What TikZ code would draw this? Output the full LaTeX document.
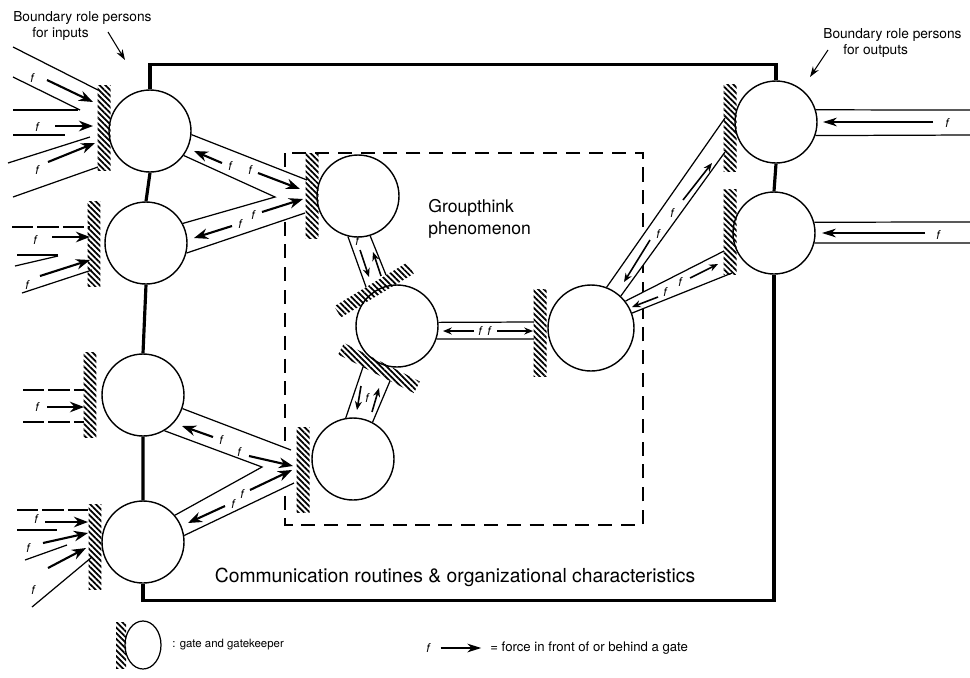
\documentclass[tikz,border=0pt]{standalone}
\usepackage{fontspec}
\setmainfont{TeX Gyre Heros}
\usetikzlibrary{arrows.meta,patterns.meta,shapes.geometric,calc}

\begin{document}
\begin{tikzpicture}[x=0.02cm,y=-0.02cm,
  gate/.style={circle,draw,line width=0.8pt,minimum size=1.64cm,inner sep=0pt},
  hatch/.style={rectangle,inner sep=0pt,minimum width=0.26cm,minimum height=1.7cm,
    pattern={Lines[angle=-45,distance=2.3pt,line width=1pt]}},
  wall/.style={line width=0.7pt},
  brk/.style={dash pattern=on 12pt off 2.5pt},
  boxline/.style={line width=1.8pt},
  force/.style={-{Stealth[length=8pt,width=6pt]},line width=1.2pt},
  smallforce/.style={-{Stealth[length=5pt,width=4pt]},line width=0.9pt},
  thinforce/.style={-{Stealth[length=8pt,width=5pt]},line width=0.6pt},
  lbl/.style={font=\fontsize{7}{8}\selectfont\itshape,inner sep=0pt}]
\useasboundingbox (0,0) rectangle (970,677);

% Groupthink area
\draw[line width=0.8pt,dash pattern=on 8pt off 5pt] (285,153) rectangle (643,525);

% Gate positions (y runs downwards, so polar angles are mirrored)
\coordinate (c1) at (150,131);
\coordinate (c2) at (146,243);
\coordinate (c3) at (143,395);
\coordinate (c4) at (143,542);
\coordinate (c5) at (591,328);

% Channels blank out the dashes
\fill[white] ($(c1)+(5:41)$) -- (307,180) -- (305,213) -- ($(c2)+(14:41)$) -- ($(c2)+(-28:41)$) -- (275,197) -- ($(c1)+(36:41)$) -- cycle;
\fill[white] ($(c3)+(19:41)$) -- (291,450) -- (294,483) -- ($(c4)+(-9:41)$) -- ($(c4)+(-40:41)$) -- (262,467) -- ($(c3)+(59:41)$) -- cycle;
\fill[white] ($(c5)+(-69:43)$) -- (725,118) -- (725,152) -- ($(c5)+(-47:43)$) -- cycle;
\fill[white] ($(c5)+(-38:43)$) -- (724,251) -- (732,273) -- ($(c5)+(-20:43)$) -- cycle;

% Gates left to right
\node[gate] (in1) at (c1) {};
\node[gate] (in2) at (c2) {};
\node[gate] (in3) at (c3) {};
\node[gate] (in4) at (c4) {};
\node[gate] (gt1) at (358,196) {};
\node[gate] (gt2) at (397,326) {};
\node[gate] (gt3) at (353,459) {};
\node[gate,minimum size=1.72cm] (gt4) at (c5) {};
\node[gate] (out1) at (776,122) {};
\node[gate] (out2) at (774,233) {};

% Gatekeepers
\node[hatch] (bin1) at (104,128) {};
\node[hatch] (bin2) at (94,244) {};
\node[hatch] (bin3) at (90,395) {};
\node[hatch] (bin4) at (95,547) {};
\node[hatch] (bgt1) at (312,196) {};
\node[hatch,rotate=-59] (bgt2a) at (374,290) {};
\node[hatch,rotate=63] (bgt2b) at (379,368) {};
\node[hatch] (bgt3) at (303,470) {};
\node[hatch,minimum height=1.74cm] (bgt4) at (540,333) {};
\node[hatch,minimum height=1.76cm] (bout1) at (730,128) {};
\node[hatch] (bout2) at (730,232) {};

% Organisation boundary
\draw[boxline] (in1.north) -- ++(0,-25) -| (out1.north);
\draw[boxline] (in1.south) -- (in2.north) (in2.south) -- (in3.north) (in3.south) -- (in4.north);
\draw[boxline] (in4.south) -- ++(0,17) -| (out2.south);
\draw[boxline] (out1.south) -- (out2.north);

% Inputs of first gate
\draw[wall] (13,47) -- (98,90);
\draw[wall] (13,77) -- (80,110);
\draw[wall] (13,110) -- (78,110);
\draw[wall] (13,135) -- (65,135);
\draw[wall] (8,163) -- (90,137);
\draw[wall] (13,197) -- (98,167);
\draw[force] (47,80) -- (93,102);
\draw[force] (55,126) -- (93,126);
\draw[force] (48,162) -- (95,143);
\node[lbl] (fa1) at (32,78) {f};
\node[lbl] (fa2) at (37,127) {f};
\node[lbl] (fa3) at (37,170) {f};

% Inputs of second gate
\draw[wall,brk] (12,227) -- (90,227);
\draw[force] (52,237) -- (90,237);
\draw[wall] (17,255) -- (58,255);
\draw[wall] (15,266) -- (58,256);
\draw[force] (40,276) -- (90,260);
\draw[wall] (22,293) -- (92,270);
\node[lbl] (fb1) at (35,240) {f};
\node[lbl] (fb2) at (27,285) {f};

% Inputs of third gate
\draw[wall,brk] (23,390) -- (84,390);
\draw[force] (47,407) -- (84,407);
\draw[wall,brk] (23,422) -- (84,422);
\node[lbl] (fc1) at (37,407) {f};

% Inputs of fourth gate
\draw[wall,brk] (17,510) -- (88,510);
\draw[force] (45,522) -- (88,522);
\draw[wall] (17,530) -- (57,530);
\draw[force] (43,543) -- (88,533);
\draw[wall] (25,560) -- (67,545);
\draw[force] (48,568) -- (86,548);
\draw[wall] (32,607) -- (92,557);
\node[lbl] (fd1) at (36,519) {f};
\node[lbl] (fd2) at (28,548) {f};
\node[lbl] (fd3) at (33,590) {f};

% Channels towards the groupthink gates
\draw[wall] (in1.-5) -- (307,180);
\draw[wall] (in1.-36) -- (275,197) -- (in2.28);
\draw[wall] (in2.-14) -- (305,213);
\draw[force] (222,163) -- (194,151);
\draw[force] (258,173) -- (300,189);
\draw[force] (262,212) -- (303,199);
\draw[force] (232,226) -- (194,238);
\node[lbl] (fe1) at (230,166) {f};
\node[lbl] (fe2) at (250,170) {f};
\node[lbl] (fe3) at (253,215) {f};
\node[lbl] (fe4) at (240,224) {f};

\draw[wall] (in3.-19) -- (291,450);
\draw[wall] (in3.-59) -- (262,467) -- (in4.40);
\draw[wall] (in4.9) -- (294,483);
\draw[force] (213,437) -- (182,426);
\draw[force] (249,456) -- (293,466);
\draw[force] (250,490) -- (292,470);
\draw[force] (225,506) -- (188,523);
\node[lbl] (fg1) at (221,440) {f};
\node[lbl] (fg2) at (239,452) {f};
\node[lbl] (fg3) at (242,494) {f};
\node[lbl] (fg4) at (233,504) {f};

% Channels inside the groupthink area
\draw[wall] (gt1.-104) -- (366,287);
\draw[wall] (gt1.-73) -- (386,275);
\draw[smallforce] (360,250) -- (369,277);
\draw[smallforce] (381,276) -- (373,252);
\node[lbl] (fh1) at (357,241) {f};

\draw[wall] (gt3.100) -- (363,367);
\draw[wall] (gt3.62) -- (390,381);
\draw[smallforce] (372,412) -- (379,388);
\draw[smallforce] (361,386) -- (357,410);
\node[lbl] (fi1) at (367,398) {f};

\draw[wall] (gt2.5) -- (534,322);
\draw[wall] (gt2.-18) -- (534,339);
\draw[smallforce] (474,331) -- (443,331);
\draw[smallforce] (497,331) -- (533,331);
\node[lbl] (fj1) at (480,331) {f};
\node[lbl] (fj2) at (489,331) {f};

% Channels towards the output gates
\draw[wall] (gt4.69) -- (725,118);
\draw[wall] (gt4.47) -- (725,152);
\draw[smallforce] (683,200) -- (712,163);
\draw[smallforce] (650,240) -- (624,282);
\node[lbl] (fk1) at (672,213) {f};
\node[lbl] (fk2) at (658,234) {f};

\draw[wall] (gt4.38) -- (724,251);
\draw[wall] (gt4.20) -- (732,273);
\draw[smallforce] (690,278) -- (718,264);
\draw[smallforce] (658,297) -- (632,307);
\node[lbl] (fl1) at (680,282) {f};
\node[lbl] (fl2) at (665,292) {f};

% Outputs
\draw[wall] (out1.17) -- (970,110);
\draw[wall] (out1.-19) -- (970,135);
\draw[thinforce] (933,122) -- (823,122);
\node[lbl] (fm1) at (947,123) {f};
\draw[wall] (out2.15) -- (970,222);
\draw[wall] (out2.-14) -- (970,243);
\draw[thinforce] (925,233) -- (822,233);
\node[lbl] (fm2) at (938,235) {f};

% Texts
\node[anchor=north west,align=left,inner sep=0pt,font=\fontsize{7.8}{9.4}\selectfont] (inlbl) at (13,11)
  {Boundary role persons\\\hspace*{0.38cm}for inputs};
\coordinate (intip) at (125,60);
\draw[thinforce,-{Stealth[length=6pt,width=4pt]}] (108,32) -- (intip);
\node[anchor=north west,align=left,inner sep=0pt,font=\fontsize{7.8}{9.4}\selectfont] (outlbl) at (823,28)
  {Boundary role persons\\\hspace*{0.4cm}for outputs};
\coordinate (outtip) at (810,77);
\draw[thinforce,-{Stealth[length=6pt,width=4pt]}] (828,50) -- (outtip);
\node[anchor=north west,align=left,inner sep=0pt,font=\fontsize{10}{12.5}\selectfont] (gtlbl) at (428,199)
  {Groupthink\\phenomenon};
\node[font=\fontsize{11}{13}\selectfont] (commlbl) at (455,577)
  {Communication routines \& organizational characteristics};

% Legend
\node[ellipse,draw,line width=0.7pt,minimum width=0.72cm,minimum height=0.96cm,inner sep=0pt] (keygate) at (143,645) {};
\node[hatch,minimum width=0.2cm,minimum height=0.92cm] (keybar) at (121,645) {};
\node[anchor=west,inner sep=0pt,font=\fontsize{6.5}{8}\selectfont] (keytext) at (172,645) {: gate and gatekeeper};
\node[lbl] (keyf) at (428,648) {f};
\node[anchor=west,inner sep=0pt,font=\fontsize{7.5}{9}\selectfont] (keytext2) at (490,648) {= force in front of or behind a gate};
\draw[thinforce] ([xshift=6pt]keyf.east) -- ([xshift=-5pt]keytext2.west);
\end{tikzpicture}
\end{document}
